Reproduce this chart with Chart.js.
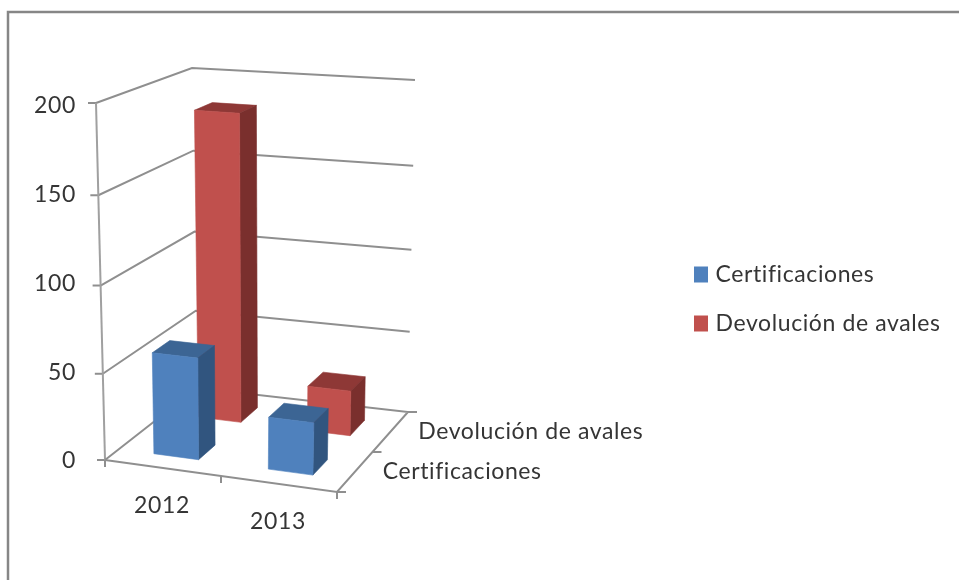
<!DOCTYPE html>
<html><head><meta charset="utf-8">
<style>html,body{margin:0;padding:0;background:#fff}canvas{display:block;filter:blur(0.45px)}</style>
<script src="https://cdn.jsdelivr.net/npm/chart.js@4"></script>
</head><body><canvas id="c" width="959" height="580"></canvas>
<script>
const categories = ["2012", "2013"];
const seriesNames = ["Certificaciones", "Devolución de avales"];
const certificaciones = [59, 30];
const devolucion = [184, 27];
const yMax = 200, yStep = 50;

const FONT = "Lato";
const FS = 23;
const TEXT = "#353535";
const SPACING = "0.6px";
// Corners of the 3D plot box, [x, y], keyed by u (category), v (depth), w (value)
const BOX = {
  "000":[105,460],"100":[337,492],"010":[197,388],"110":[408,412],
  "001":[96,103],"101":[346,122],"011":[192,68],"111":[415,80]
};
const PERSP = 0.045;
function proj(u,v,w){
  const ww = w - PERSP*w*(1-w);
  let x=0,y=0;
  for(const a of [0,1])for(const b of [0,1])for(const c of [0,1]){
    const k=(a?u:1-u)*(b?v:1-v)*(c?ww:1-ww);
    const p=BOX[""+a+b+c];
    x+=k*p[0];y+=k*p[1];
  }
  return [x,y];
}
function line(ctx,pts,color,width){
  ctx.beginPath();
  pts.forEach((p,i)=>i?ctx.lineTo(p[0],p[1]):ctx.moveTo(p[0],p[1]));
  ctx.strokeStyle=color;ctx.lineWidth=width;ctx.stroke();
}
function quad(ctx,pts,color){
  ctx.beginPath();
  pts.forEach((p,i)=>i?ctx.lineTo(p[0],p[1]):ctx.moveTo(p[0],p[1]));
  ctx.closePath();
  ctx.fillStyle=color;ctx.fill();
  ctx.strokeStyle=color;ctx.lineWidth=0.6;ctx.stroke();
}
const SHADES = [
  {front:"#4F81BD",side:"#31557F",top:"#3C6594"},
  {front:"#C0504D",side:"#7A2F2D",top:"#8E3836"}
];
const plot3d = {
  id:"plot3d",
  beforeUpdate(chart){ chart.ctx.letterSpacing=SPACING; },
  afterLayout(chart){
    const lg=chart.legend, p=lg.options.labels.padding;
    lg.left=698-p; lg.top=263-p;
    lg.right=chart.width; lg.bottom=chart.height;
  },
  beforeDraw(chart){
    const ctx=chart.ctx;
    ctx.letterSpacing=SPACING;
    ctx.save();
    line(ctx,[[8,580],[8,12],[959,12]],"#868686",2.5);
    ctx.restore();
  },
  beforeDatasetsDraw(chart){
    const ctx=chart.ctx,y=chart.scales.y,G="#8F8F8F",LW=2;
    ctx.save();
    y.ticks.forEach(t=>{
      const w=(t.value-y.min)/(y.max-y.min);
      if(w>0) line(ctx,[proj(0,0,w),proj(0,1,w),proj(1,1,w)],G,LW);
      const p=proj(0,0,w);
      line(ctx,[[p[0]-8,p[1]],p],G,LW);
    });
    line(ctx,[proj(0,0,0),proj(0,0,1)],"#A0A0A0",LW);
    line(ctx,[proj(0,0,0),proj(0,1,0),proj(1,1,0),proj(1,0,0),proj(0,0,0)],G,LW);
    // axis tick marks
    [0,.5,1].forEach(u=>{const p=proj(u,0,0);line(ctx,[p,[p[0],p[1]+7]],G,LW);});
    [0,.5,1].forEach(v=>{const p=proj(1,v,0);line(ctx,[p,[p[0]+9,p[1]]],G,LW);});
    // category and depth labels
    ctx.font=FS+"px "+FONT;ctx.fillStyle=TEXT;ctx.textBaseline="middle";
    ctx.textAlign="center";
    categories.forEach((c,i)=>{
      const p=proj((i+.5)/categories.length,0,0);
      ctx.fillText(c,p[0]-1,p[1]+38);
    });
    ctx.textAlign="left";
    seriesNames.forEach((s,i)=>{
      const p=proj(1,(i+.5)/seriesNames.length,0);
      ctx.fillText(s,p[0]+28,p[1]);
    });
    ctx.restore();
  },
  beforeDatasetDraw(chart,args){
    const ctx=chart.ctx,x=chart.scales.x,y=chart.scales.y;
    const meta=chart.getDatasetMeta(args.index);
    const sh=SHADES[args.index];
    const n=chart.data.datasets.length;
    const xw=x.right-x.left,yh=y.bottom-y.top;
    ctx.save();
    meta.data.forEach(el=>{
      const u0=(el.x-el.width/2-x.left)/xw,u1=(el.x+el.width/2-x.left)/xw;
      const half=el.width/xw/2,vc=(args.index+.5)/n;
      const v0=vc-half,v1=vc+half;
      const w0=(y.bottom-el.base)/yh,w1=(y.bottom-el.y)/yh;
      quad(ctx,[proj(u0,v0,w1),proj(u0,v1,w1),proj(u1,v1,w1),proj(u1,v0,w1)],sh.top);
      quad(ctx,[proj(u1,v0,w0),proj(u1,v1,w0),proj(u1,v1,w1),proj(u1,v0,w1)],sh.side);
      quad(ctx,[proj(u0,v0,w0),proj(u1,v0,w0),proj(u1,v0,w1),proj(u0,v0,w1)],sh.front);
    });
    ctx.restore();
    return false;
  }
};
new Chart(document.getElementById("c"),{
  type:"bar",
  data:{labels:categories,datasets:[
    {label:seriesNames[0],data:certificaciones,backgroundColor:"#4F81BD",grouped:false,barPercentage:.39,categoryPercentage:1},
    {label:seriesNames[1],data:devolucion,backgroundColor:"#C0504D",grouped:false,barPercentage:.39,categoryPercentage:1}
  ]},
  plugins:[plot3d],
  options:{
    responsive:false,animation:false,
    layout:{padding:{left:26,top:106,bottom:119,right:10}},
    plugins:{
      tooltip:{enabled:false},title:{display:false},
      legend:{position:"right",align:"start",labels:{
        boxWidth:6,boxHeight:8,padding:26,color:TEXT,font:{family:FONT,size:FS},
        generateLabels(chart){
          return Chart.defaults.plugins.legend.labels.generateLabels(chart).map(l=>{
            l.strokeStyle=l.fillStyle;l.lineWidth=8;return l;
          });
        }
      }}
    },
    scales:{
      x:{display:false},
      y:{min:0,max:yMax,grid:{display:false},border:{display:false},
         ticks:{stepSize:yStep,color:TEXT,padding:8,font:{family:FONT,size:FS}}}
    }
  }
});
</script></body></html>
